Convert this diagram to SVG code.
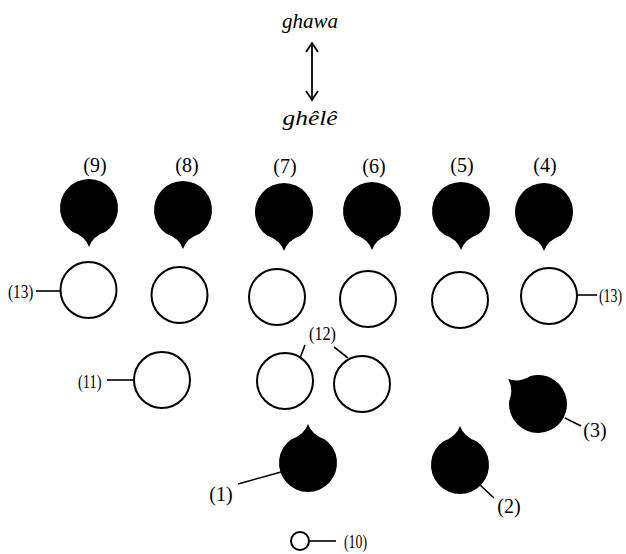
<svg xmlns="http://www.w3.org/2000/svg" width="626" height="554" viewBox="0 0 626 554">
  <style>
    .drop { fill: #000; }
    .ring { fill: #fff; stroke: #000; stroke-width: 2; }
    .lead { stroke: #000; stroke-width: 1.6; fill: none; }
    .head { stroke: #000; stroke-width: 1.8; fill: none; }
    .num { font-family: "Liberation Serif", serif; font-size: 20px; fill: #000; text-anchor: middle; }
    .tag { font-family: "Liberation Serif", serif; font-size: 18px; fill: #000; }
    .word { font-family: "Liberation Serif", serif; font-style: italic; font-size: 21px; fill: #000; text-anchor: middle; }
  </style>
  <defs>
    <!-- teardrop: circle r=29 centred at origin, point facing +y -->
    <path id="drop" d="M -16.6 23.8 A 29 29 0 1 1 16.6 23.8 Q 4 28 0 39 Q -4 28 -16.6 23.8 Z"/>
  </defs>

  <!-- title pair with double arrow -->
  <g id="title">
    <text class="word" x="310" y="28" textLength="56" lengthAdjust="spacingAndGlyphs">ghawa</text>
    <line class="head" x1="312" y1="43" x2="312" y2="100"/>
    <polyline class="head" points="306,52 312,43 318,52"/>
    <polyline class="head" points="306,91 312,100 318,91"/>
    <text class="word" x="310" y="125" textLength="55" lengthAdjust="spacingAndGlyphs">ghêlê</text>
  </g>

  <!-- upper row of filled drops -->
  <g id="n9"><use href="#drop" class="drop" transform="translate(89,208)"/><text class="num" x="95" y="172">(9)</text></g>
  <g id="n8"><use href="#drop" class="drop" transform="translate(183,210)"/><text class="num" x="187" y="172">(8)</text></g>
  <g id="n7"><use href="#drop" class="drop" transform="translate(284,212)"/><text class="num" x="285" y="173">(7)</text></g>
  <g id="n6"><use href="#drop" class="drop" transform="translate(372,211)"/><text class="num" x="374" y="173">(6)</text></g>
  <g id="n5"><use href="#drop" class="drop" transform="translate(461,211)"/><text class="num" x="462" y="172">(5)</text></g>
  <g id="n4"><use href="#drop" class="drop" transform="translate(544,212)"/><text class="num" x="545" y="172">(4)</text></g>

  <!-- row of open circles -->
  <g id="r1"><circle class="ring" cx="88.5" cy="290" r="28"/></g>
  <g id="r2"><circle class="ring" cx="179.5" cy="295" r="28"/></g>
  <g id="r3"><circle class="ring" cx="277" cy="297" r="28"/></g>
  <g id="r4"><circle class="ring" cx="368" cy="299" r="28"/></g>
  <g id="r5"><circle class="ring" cx="460" cy="300" r="28"/></g>
  <g id="r6"><circle class="ring" cx="549" cy="296" r="28"/></g>

  <!-- lower open circles -->
  <g id="n11"><circle class="ring" cx="162" cy="380" r="28"/></g>
  <g id="n12a"><circle class="ring" cx="285" cy="381" r="28"/></g>
  <g id="n12b"><circle class="ring" cx="362" cy="384" r="28"/></g>

  <!-- lower filled drops -->
  <g id="n3"><use href="#drop" class="drop" transform="translate(538,404) rotate(130)"/></g>
  <g id="n1"><use href="#drop" class="drop" transform="translate(308,463) rotate(180)"/></g>
  <g id="n2"><use href="#drop" class="drop" transform="translate(460,465) rotate(180)"/></g>

  <!-- small ring -->
  <g id="n10"><circle class="ring" cx="300" cy="541" r="9"/></g>

  <!-- leader lines -->
  <g id="connectors">
    <line class="lead" x1="36" y1="291" x2="61" y2="291"/>
    <line class="lead" x1="577" y1="295" x2="597" y2="295"/>
    <line class="lead" x1="107" y1="380" x2="134" y2="380"/>
    <line class="lead" x1="305" y1="345" x2="300" y2="358"/>
    <line class="lead" x1="334" y1="347" x2="348" y2="358"/>
    <line class="lead" x1="565" y1="418" x2="581" y2="426"/>
    <line class="lead" x1="281" y1="472" x2="238" y2="484"/>
    <line class="lead" x1="480" y1="485" x2="494" y2="498"/>
    <line class="lead" x1="309" y1="541" x2="336" y2="541"/>
  </g>

  <!-- labels (narrow ones squeezed horizontally) -->
  <g id="labels">
    <text class="tag" transform="translate(8,298) scale(0.85,1)">(13)</text>
    <text class="tag" transform="translate(599,302) scale(0.77,1)">(13)</text>
    <text class="tag" transform="translate(78,388) scale(0.8,1)">(11)</text>
    <text class="tag" transform="translate(309,340) scale(0.9,1)">(12)</text>
    <text class="tag" transform="translate(344,548) scale(0.77,1)">(10)</text>
    <text class="num" x="221" y="501">(1)</text>
    <text class="num" x="509" y="513">(2)</text>
    <text class="num" x="595" y="437">(3)</text>
  </g>
</svg>
